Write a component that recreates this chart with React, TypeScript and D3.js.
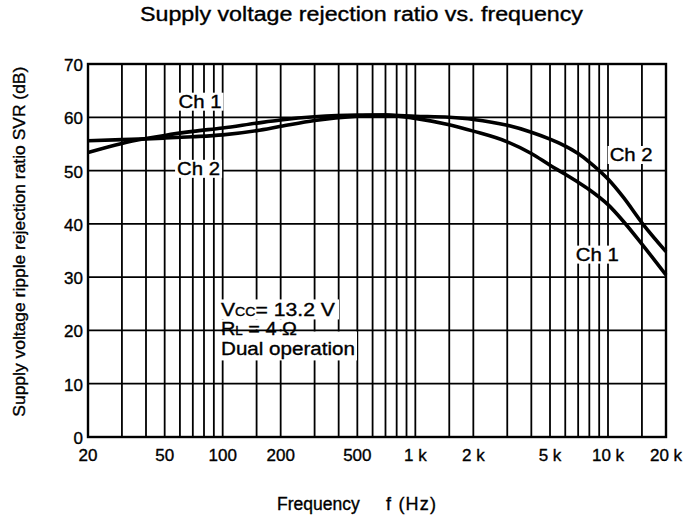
import { useEffect, useRef } from "react"
import * as d3 from "d3"

// frequency points (Hz)
const freqs = [20, 30, 40, 50, 70, 100, 150, 200, 300, 500, 700, 1000, 1500, 2000, 3000, 4000, 5000, 6000, 7000, 8000, 10000, 12000, 15000, 20000]
const ch1 = [53.4, 55.1, 56.0, 56.6, 57.35, 58.0, 58.9, 59.5, 60.1, 60.4, 60.4, 59.8, 58.6, 57.4, 55.4, 53.2, 51.0, 49.3, 47.8, 46.4, 43.6, 40.5, 36.2, 30.4]
const ch2 = [55.6, 55.8, 55.95, 56.1, 56.35, 56.7, 57.5, 58.3, 59.4, 60.2, 60.4, 60.2, 60.0, 59.6, 58.5, 57.2, 55.9, 54.6, 53.2, 51.6, 48.4, 45.0, 40.2, 34.8]

const gridFreqs = [
    20, 30, 40, 50, 60, 70, 80, 90,
    100, 150, 200, 300, 400, 500, 600, 700, 800, 900,
    1000, 1500, 2000, 3000, 4000, 5000, 6000, 7000, 8000, 9000,
    10000, 15000, 20000,
]
const xTicks = [20, 50, 100, 200, 500, 1000, 2000, 5000, 10000, 20000]
const xTickLabels = ["20", "50", "100", "200", "500", "1 k", "2 k", "5 k", "10 k", "20 k"]
const yTicks = [0, 10, 20, 30, 40, 50, 60, 70]

const FONT = "'Liberation Sans', Arial, Helvetica, sans-serif"

export default function App() {
    const ref = useRef<SVGSVGElement | null>(null)

    useEffect(() => {
        const node = ref.current
        if (!node) return
        const width = 688
        const height = 520
        const margin = { top: 64, right: 22, bottom: 83, left: 88 }
        const innerW = width - margin.left - margin.right
        const innerH = height - margin.top - margin.bottom

        const svg = d3.select(node)
        svg.selectAll("*").remove()

        svg.append("rect").attr("width", width).attr("height", height).attr("fill", "#fff")

        const x = d3.scaleLog().domain([20, 20000]).range([0, innerW])
        const y = d3.scaleLinear().domain([0, 70]).range([innerH, 0])

        const g = svg.append("g").attr("transform", `translate(${margin.left},${margin.top})`)

        // vertical grid
        g.append("g")
            .selectAll("line")
            .data(gridFreqs)
            .join("line")
            .attr("x1", d => x(d))
            .attr("x2", d => x(d))
            .attr("y1", 0)
            .attr("y2", innerH)
            .attr("stroke", "#000")
            .attr("stroke-width", 1.8)

        // white patch behind the conditions note (horizontal grid still drawn over it)
        const note = g.append("g").attr("transform", `translate(${x(20) + 133},${y(20)})`)
        note.append("rect").attr("x", -2).attr("y", -31).attr("width", 120).attr("height", 20).attr("fill", "#fff")
        note.append("rect").attr("x", -2).attr("y", -11).attr("width", 78).attr("height", 10).attr("fill", "#fff")
        note.append("rect").attr("x", -2).attr("y", 1).attr("width", 138).attr("height", 29).attr("fill", "#fff")

        // horizontal grid
        g.append("g")
            .selectAll("line")
            .data(yTicks)
            .join("line")
            .attr("x1", 0)
            .attr("x2", innerW)
            .attr("y1", d => y(d))
            .attr("y2", d => y(d))
            .attr("stroke", "#000")
            .attr("stroke-width", 1.8)

        g.append("rect")
            .attr("width", innerW)
            .attr("height", innerH)
            .attr("fill", "none")
            .attr("stroke", "#000")
            .attr("stroke-width", 2.4)

        const line = d3.line<number>()
            .x((_, i) => x(freqs[i]))
            .y(d => y(d))
            .curve(d3.curveMonotoneX)

        for (const s of [ch1, ch2]) {
            g.append("path")
                .datum(s)
                .attr("fill", "none")
                .attr("stroke", "#000")
                .attr("stroke-width", 3.6)
                .attr("stroke-linejoin", "round")
                .attr("d", line)
        }

        const txt = (sel: d3.Selection<any, any, any, any>) =>
            sel.attr("font-family", FONT).attr("fill", "#000").attr("stroke", "#000").attr("stroke-width", 0.35)

        // curve labels with white background
        const labels = [
            { t: "Ch 1", f: 59, v: 61.8 },
            { t: "Ch 2", f: 58, v: 49.2 },
            { t: "Ch 2", f: 10200, v: 51.8 },
            { t: "Ch 1", f: 6800, v: 33.1 },
        ]
        for (const l of labels) {
            const lx = x(l.f)
            const ly = y(l.v)
            g.append("rect")
                .attr("x", lx - 2)
                .attr("y", ly - 15)
                .attr("width", 47)
                .attr("height", 18)
                .attr("fill", "#fff")
            txt(g.append("text"))
                .attr("x", lx)
                .attr("y", ly)
                .attr("font-size", 18)
                .attr("textLength", 43)
                .attr("lengthAdjust", "spacingAndGlyphs")
                .text(l.t)
        }

        // conditions note
        const n1 = txt(note.append("text"))
            .attr("x", 0)
            .attr("y", -14)
            .attr("font-size", 18)
            .attr("textLength", 114)
            .attr("lengthAdjust", "spacingAndGlyphs")
        n1.append("tspan").text("V")
        n1.append("tspan").attr("font-size", 12).text("CC")
        n1.append("tspan").text("= 13.2 V")

        const n2 = txt(note.append("text"))
            .attr("x", 0)
            .attr("y", 5)
            .attr("font-size", 18)
            .attr("textLength", 76)
            .attr("lengthAdjust", "spacingAndGlyphs")
        n2.append("tspan").text("R")
        n2.append("tspan").attr("font-size", 12).text("L")
        n2.append("tspan").text(" = 4 \u03a9")

        txt(note.append("text"))
            .attr("x", 0)
            .attr("y", 25)
            .attr("font-size", 18)
            .attr("textLength", 134)
            .attr("lengthAdjust", "spacingAndGlyphs")
            .text("Dual operation")

        // tick labels
        g.append("g")
            .selectAll("text")
            .data(xTicks)
            .join("text")
            .call(txt)
            .attr("x", d => x(d))
            .attr("y", innerH + 24)
            .attr("text-anchor", "middle")
            .attr("font-size", 17)
            .text((_, i) => xTickLabels[i])

        g.append("g")
            .selectAll("text")
            .data(yTicks)
            .join("text")
            .call(txt)
            .attr("x", -5)
            .attr("y", d => y(d) + 7)
            .attr("text-anchor", "end")
            .attr("font-size", 17)
            .text(d => String(d))

        // titles
        txt(svg.append("text"))
            .attr("x", 361.5)
            .attr("y", 21)
            .attr("text-anchor", "middle")
            .attr("font-size", 19.5)
            .attr("textLength", 443)
            .attr("lengthAdjust", "spacingAndGlyphs")
            .text("Supply voltage rejection ratio vs. frequency")

        txt(svg.append("text"))
            .attr("x", 277)
            .attr("y", 510)
            .attr("font-size", 17.5)
            .text("Frequency")

        txt(svg.append("text"))
            .attr("x", 386)
            .attr("y", 510)
            .attr("font-size", 18)
            .attr("letter-spacing", 1.2)
            .text("f (Hz)")

        txt(svg.append("text"))
            .attr("transform", "translate(24.5,241.7) rotate(-90)")
            .attr("text-anchor", "middle")
            .attr("font-size", 17.4)
            .attr("textLength", 350)
            .attr("lengthAdjust", "spacingAndGlyphs")
            .text("Supply voltage ripple rejection ratio SVR (dB)")
    }, [])

    return (
        <svg
            ref={ref}
            width={688}
            height={520}
            style={{ position: "absolute", left: 0, top: 0, display: "block" }}
        />
    )
}
